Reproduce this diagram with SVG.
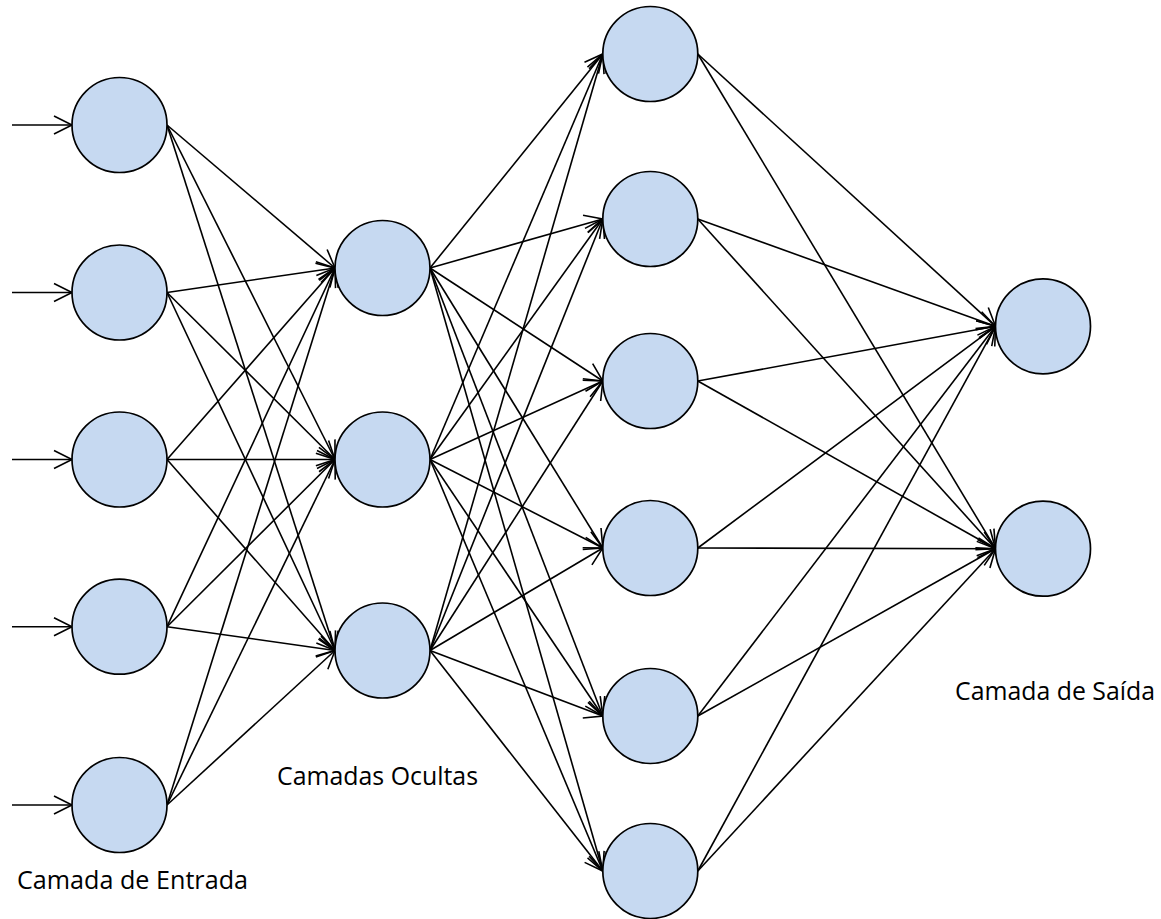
<svg xmlns="http://www.w3.org/2000/svg" width="1161" height="919" viewBox="0 0 1161 919">
<style>
.n{fill:#c6d9f1;stroke:#000;stroke-width:1.7}
.c line{stroke:#000;stroke-width:1.6;marker-end:url(#ah)}
.t{font-family:"Open Sans","Liberation Sans",sans-serif;font-size:25px;fill:#000}
</style>
<defs>
<marker id="ah" markerUnits="userSpaceOnUse" markerWidth="24" markerHeight="22" refX="20" refY="11" orient="auto" overflow="visible">
<path d="M2,2 L20,11 L2,20" fill="none" stroke="#000" stroke-width="1.6"/>
</marker>
</defs>
<rect width="1161" height="919" fill="#fff"/>
<g class="c" id="connectors">
<line x1="12" y1="125" x2="72" y2="125"/>
<line x1="12" y1="292.5" x2="72" y2="292.5"/>
<line x1="12" y1="459.5" x2="72" y2="459.5"/>
<line x1="12" y1="626.7" x2="72" y2="626.7"/>
<line x1="12" y1="805" x2="72" y2="805"/>
<line x1="167" y1="125" x2="335" y2="268"/>
<line x1="167" y1="125" x2="335" y2="459.5"/>
<line x1="167" y1="125" x2="335" y2="650.5"/>
<line x1="167" y1="292.5" x2="335" y2="268"/>
<line x1="167" y1="292.5" x2="335" y2="459.5"/>
<line x1="167" y1="292.5" x2="335" y2="650.5"/>
<line x1="167" y1="459.5" x2="335" y2="268"/>
<line x1="167" y1="459.5" x2="335" y2="459.5"/>
<line x1="167" y1="459.5" x2="335" y2="650.5"/>
<line x1="167" y1="626.7" x2="335" y2="268"/>
<line x1="167" y1="626.7" x2="335" y2="459.5"/>
<line x1="167" y1="626.7" x2="335" y2="650.5"/>
<line x1="167" y1="805" x2="335" y2="268"/>
<line x1="167" y1="805" x2="335" y2="459.5"/>
<line x1="167" y1="805" x2="335" y2="650.5"/>
<line x1="430" y1="268" x2="602.8" y2="54"/>
<line x1="430" y1="268" x2="602.8" y2="219"/>
<line x1="430" y1="268" x2="602.8" y2="381"/>
<line x1="430" y1="268" x2="602.8" y2="548"/>
<line x1="430" y1="268" x2="602.8" y2="716"/>
<line x1="430" y1="268" x2="602.8" y2="871"/>
<line x1="430" y1="459.5" x2="602.8" y2="54"/>
<line x1="430" y1="459.5" x2="602.8" y2="219"/>
<line x1="430" y1="459.5" x2="602.8" y2="381"/>
<line x1="430" y1="459.5" x2="602.8" y2="548"/>
<line x1="430" y1="459.5" x2="602.8" y2="716"/>
<line x1="430" y1="459.5" x2="602.8" y2="871"/>
<line x1="430" y1="650.5" x2="602.8" y2="54"/>
<line x1="430" y1="650.5" x2="602.8" y2="219"/>
<line x1="430" y1="650.5" x2="602.8" y2="381"/>
<line x1="430" y1="650.5" x2="602.8" y2="548"/>
<line x1="430" y1="650.5" x2="602.8" y2="716"/>
<line x1="430" y1="650.5" x2="602.8" y2="871"/>
<line x1="697.8" y1="54" x2="995.5" y2="326.3"/>
<line x1="697.8" y1="54" x2="995.5" y2="548.7"/>
<line x1="697.8" y1="219" x2="995.5" y2="326.3"/>
<line x1="697.8" y1="219" x2="995.5" y2="548.7"/>
<line x1="697.8" y1="381" x2="995.5" y2="326.3"/>
<line x1="697.8" y1="381" x2="995.5" y2="548.7"/>
<line x1="697.8" y1="548" x2="995.5" y2="326.3"/>
<line x1="697.8" y1="548" x2="995.5" y2="548.7"/>
<line x1="697.8" y1="716" x2="995.5" y2="326.3"/>
<line x1="697.8" y1="716" x2="995.5" y2="548.7"/>
<line x1="697.8" y1="871" x2="995.5" y2="326.3"/>
<line x1="697.8" y1="871" x2="995.5" y2="548.7"/>
</g>
<g id="in1"><circle class="n" cx="119.5" cy="125" r="47.5"/></g>
<g id="in2"><circle class="n" cx="119.5" cy="292.5" r="47.5"/></g>
<g id="in3"><circle class="n" cx="119.5" cy="459.5" r="47.5"/></g>
<g id="in4"><circle class="n" cx="119.5" cy="626.7" r="47.5"/></g>
<g id="in5"><circle class="n" cx="119.5" cy="805" r="47.5"/></g>
<g id="h1a"><circle class="n" cx="382.5" cy="268" r="47.5"/></g>
<g id="h1b"><circle class="n" cx="382.5" cy="459.5" r="47.5"/></g>
<g id="h1c"><circle class="n" cx="382.5" cy="650.5" r="47.5"/></g>
<g id="h2a"><circle class="n" cx="650.3" cy="54" r="47.5"/></g>
<g id="h2b"><circle class="n" cx="650.3" cy="219" r="47.5"/></g>
<g id="h2c"><circle class="n" cx="650.3" cy="381" r="47.5"/></g>
<g id="h2d"><circle class="n" cx="650.3" cy="548" r="47.5"/></g>
<g id="h2e"><circle class="n" cx="650.3" cy="716" r="47.5"/></g>
<g id="h2f"><circle class="n" cx="650.3" cy="871" r="47.5"/></g>
<g id="out1"><circle class="n" cx="1043" cy="326.3" r="47.5"/></g>
<g id="out2"><circle class="n" cx="1043" cy="548.7" r="47.5"/></g>
<g id="labels">
<text class="t" x="17" y="889" textLength="231" lengthAdjust="spacingAndGlyphs">Camada de Entrada</text>
<text class="t" x="277" y="785" textLength="201" lengthAdjust="spacingAndGlyphs">Camadas Ocultas</text>
<text class="t" x="955" y="700" textLength="200" lengthAdjust="spacingAndGlyphs">Camada de Saída</text>
</g>
</svg>
